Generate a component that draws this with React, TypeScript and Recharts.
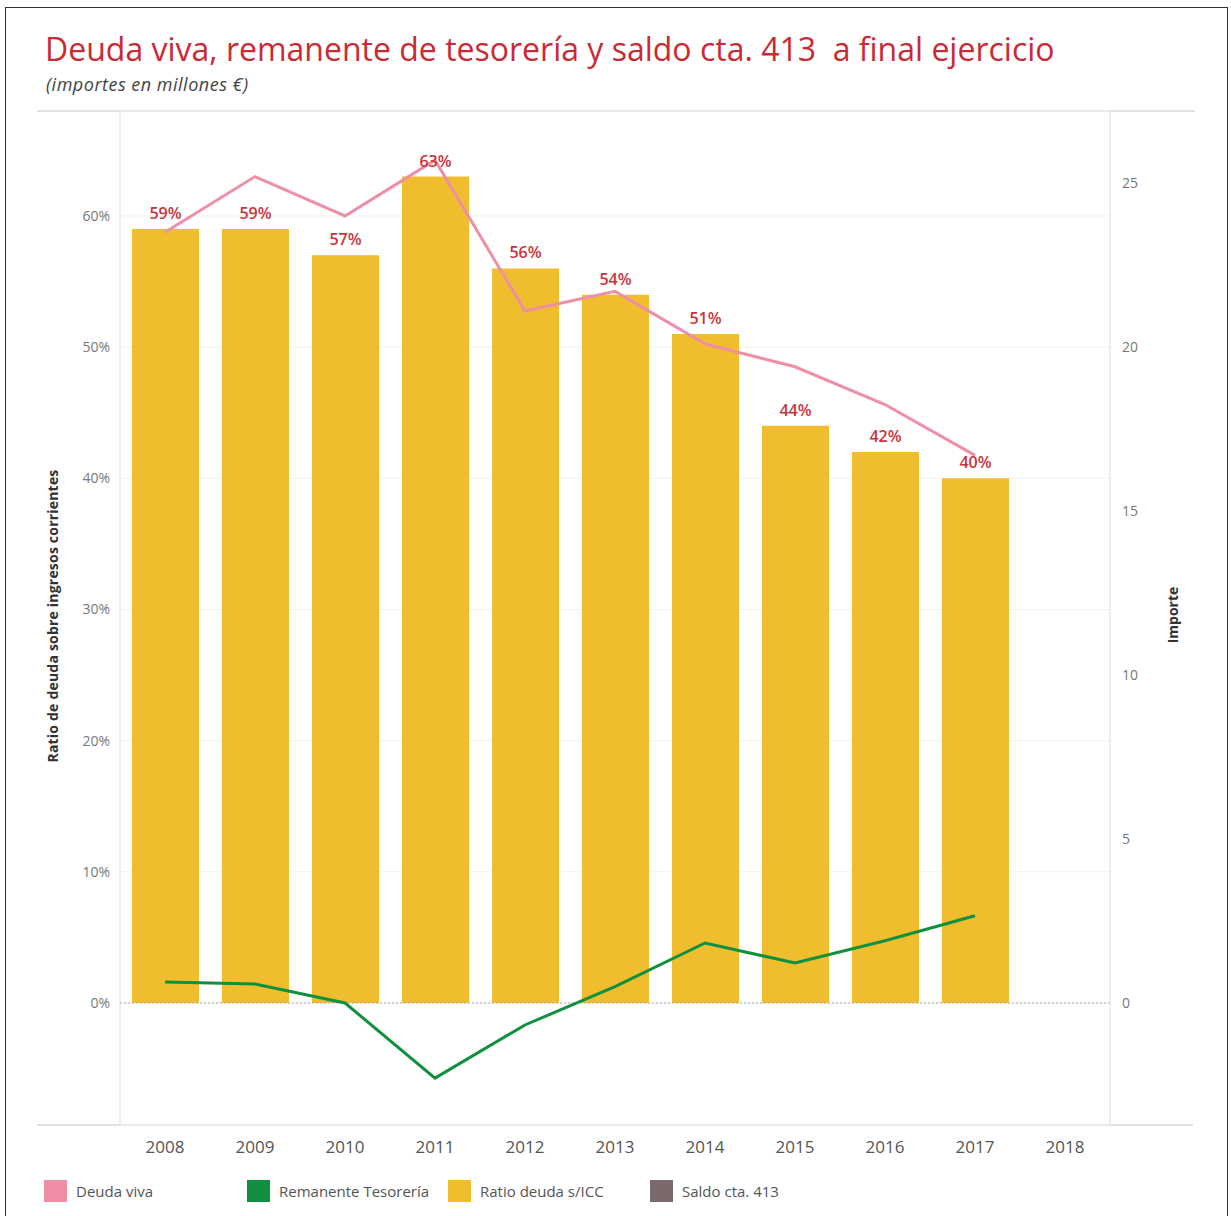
import React from 'react';
import {
  ComposedChart, Bar, Line, XAxis, YAxis, CartesianGrid, LabelList, ReferenceLine,
} from 'recharts';

const years = ['2008', '2009', '2010', '2011', '2012', '2013', '2014', '2015', '2016', '2017', '2018'];
const ratioDeuda = [59, 59, 57, 63, 56, 54, 51, 44, 42, 40, null];
const deudaViva = [23.5, 25.2, 24.0, 25.7, 21.1, 21.7, 20.1, 19.4, 18.25, 16.7, null];
const remanente = [0.64, 0.58, 0.0, -2.29, -0.67, 0.5, 1.83, 1.22, 1.9, 2.66, null];
const leftTicks = [0, 10, 20, 30, 40, 50, 60];
const rightTicks = [0, 5, 10, 15, 20, 25];

const legendItems = [
  { label: 'Deuda viva', color: '#ee8fa6', x: 44 },
  { label: 'Remanente Tesorería', color: '#10903e', x: 247 },
  { label: 'Ratio deuda s/ICC', color: '#f0bd2f', x: 448 },
  { label: 'Saldo cta. 413', color: '#7b6a6c', x: 650 },
];

const data = years.map((y, i) => ({
  year: y,
  ratio: ratioDeuda[i],
  deuda: deudaViva[i],
  remanente: remanente[i],
}));

const FONT = '"Open Sans", "Noto Sans", sans-serif';

export default function App() {
  return (
    <div style={{ position: 'absolute', left: 0, top: 0, width: 1231, height: 1216, background: '#fff', fontFamily: FONT, overflow: 'hidden' }}>
      {/* frame */}
      <div style={{ position: 'absolute', left: 5, top: 7, width: 1221, height: 1220, border: '1.5px solid #333' }} />
      {/* long rules above and below the plot */}
      <div style={{ position: 'absolute', left: 37, top: 110, width: 1158, height: 2, background: '#e2e2e2' }} />
      <div style={{ position: 'absolute', left: 37, top: 1124, width: 1156, height: 2, background: '#e2e2e2' }} />

      <div style={{ position: 'absolute', left: 45, top: 27, fontSize: 32, color: '#c92a35', whiteSpace: 'nowrap' }}>
        Deuda viva, remanente de tesorería y saldo cta. 413&nbsp; a final ejercicio
      </div>
      <div style={{ position: 'absolute', left: 46, top: 72, fontSize: 18, letterSpacing: 0.5, fontStyle: 'italic', color: '#444', whiteSpace: 'nowrap' }}>
        (importes en millones €)
      </div>

      <div style={{ position: 'absolute', left: 0, top: 0 }}>
        <ComposedChart width={1231} height={1216} data={data} margin={{ top: 111, right: 71, bottom: 51, left: 60 }}>
          <CartesianGrid yAxisId="left" vertical={false} stroke="#f1f1f1" />
          <XAxis
            dataKey="year"
            axisLine={false}
            tickLine={false}
            height={40}
            tickMargin={10}
            tick={{ fill: '#555', fontSize: 17, fontFamily: FONT }}
            interval={0}
          />
          <YAxis
            yAxisId="left"
            width={60}
            domain={[-9.3, 68]}
            ticks={leftTicks}
            allowDataOverflow
            tickFormatter={(v: number) => `${v}%`}
            axisLine={{ stroke: '#dcdcdc' }}
            tickLine={false}
            tickMargin={4}
            tick={{ fill: '#777', fontSize: 14, fontFamily: FONT }}
          />
          <YAxis
            yAxisId="right"
            orientation="right"
            width={50}
            domain={[-3.72, 27.2]}
            ticks={rightTicks}
            allowDataOverflow
            axisLine={{ stroke: '#dcdcdc' }}
            tickLine={false}
            tickMargin={6}
            tick={{ fill: '#777', fontSize: 14, fontFamily: FONT }}
          />
          <ReferenceLine yAxisId="left" y={0} stroke="#aaa" strokeDasharray="2 2" />
          <Bar yAxisId="left" dataKey="ratio" fill="#f0bd2f" barSize={67} isAnimationActive={false}>
            <LabelList
              dataKey="ratio"
              position="top"
              offset={10}
              formatter={(v: any) => (v == null ? '' : `${v}%`)}
              style={{ fill: '#c8343a', fontSize: 16, fontFamily: FONT, fontWeight: 600 }}
            />
          </Bar>
          <Line yAxisId="right" dataKey="deuda" stroke="#ee8fa6" strokeWidth={3} dot={false} type="linear" isAnimationActive={false} />
          <Line yAxisId="right" dataKey="remanente" stroke="#10903e" strokeWidth={3} dot={false} type="linear" isAnimationActive={false} />
        </ComposedChart>
      </div>

      {/* axis titles */}
      <div style={{ position: 'absolute', left: 52, top: 616, transform: 'translate(-50%, -50%) rotate(-90deg)', fontSize: 14, letterSpacing: 0.2, fontWeight: 700, color: '#333', whiteSpace: 'nowrap' }}>
        Ratio de deuda sobre ingresos corrientes
      </div>
      <div style={{ position: 'absolute', left: 1172, top: 615, transform: 'translate(-50%, -50%) rotate(-90deg)', fontSize: 14, fontWeight: 700, color: '#333', whiteSpace: 'nowrap' }}>
        Importe
      </div>

      {/* legend */}
      {legendItems.map((it) => (
        <div key={it.label} style={{ position: 'absolute', left: it.x, top: 1180, display: 'flex', alignItems: 'center', whiteSpace: 'nowrap' }}>
          <div style={{ width: 23, height: 22, background: it.color }} />
          <span style={{ marginLeft: 9, fontSize: 15, color: '#555' }}>{it.label}</span>
        </div>
      ))}
    </div>
  );
}
